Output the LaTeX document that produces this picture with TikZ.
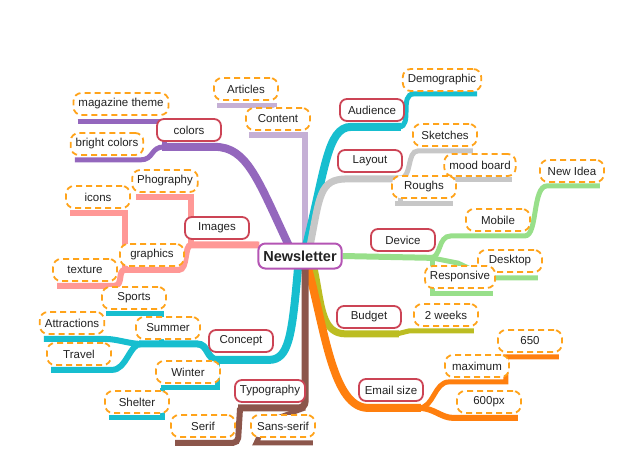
\documentclass[tikz,border=0pt]{standalone}
\usepackage{fontspec}
\setmainfont{Liberation Sans}
\usetikzlibrary{calc,backgrounds}
\definecolor{cpurple}{HTML}{9467BD}
\definecolor{clav}{HTML}{C5B0D5}
\definecolor{cteal}{HTML}{17BECF}
\definecolor{cgray}{HTML}{C7C7C7}
\definecolor{cgreen}{HTML}{98DF8A}
\definecolor{colive}{HTML}{BCBD22}
\definecolor{corg}{HTML}{FF7F0E}
\definecolor{cbrown}{HTML}{8C564B}
\definecolor{cpink}{HTML}{FF9896}
\definecolor{cred}{HTML}{CC4455}
\definecolor{cmag}{HTML}{B455B4}
\definecolor{cdash}{HTML}{FFA31A}
\definecolor{ctext}{HTML}{222222}
\begin{document}
\begin{tikzpicture}[x=1pt,y=-1pt,
  basebox/.style={fill=white, text=ctext, minimum width=64pt, minimum height=22pt,
    inner xsep=5pt, inner ysep=2pt, font=\fontsize{11.5}{13}\selectfont},
  mainbox/.style={basebox, draw=cred, line width=1.8pt, rounded corners=7pt},
  leafbox/.style={basebox, draw=cdash, line width=1.8pt, dash pattern=on 6pt off 4pt, rounded corners=8pt},
  rootbox/.style={basebox, draw=cmag, line width=2pt, rounded corners=7pt, minimum height=25pt,
    font=\bfseries\fontsize{14.5}{16}\selectfont},
  mainline/.style={line width=7pt},
  leafline/.style={line width=5pt}]
\useasboundingbox (0,0) rectangle (620,465);

% nodes
\node[rootbox] (root) at (300,256) {Newsletter};
\node[mainbox] (colors) at (189,130) {colors};
\node[mainbox] (audience) at (372,110) {Audience};
\node[mainbox] (layout) at (370,161) {Layout};
\node[mainbox] (device) at (403,240) {Device};
\node[mainbox] (images) at (217,228) {Images};
\node[mainbox] (budget) at (369,317) {Budget};
\node[mainbox] (email) at (391,390) {Email size};
\node[mainbox] (concept) at (241,341) {Concept};
\node[mainbox] (typo) at (270,391) {Typography};

\node[leafbox] (content) at (278,119) {Content};
\node[leafbox] (articles) at (246,89) {Articles};
\node[leafbox] (demo) at (442,80) {Demographic};
\node[leafbox] (sketches) at (445,135) {Sketches};
\node[leafbox] (mood) at (480,165) {mood board};
\node[leafbox] (roughs) at (424,187) {Roughs};
\node[leafbox] (newidea) at (572,171) {New Idea};
\node[leafbox] (mobile) at (498,220) {Mobile};
\node[leafbox] (desktop) at (510,261) {Desktop};
\node[leafbox] (responsive) at (460,277) {Responsive};
\node[leafbox] (twoweeks) at (446,315) {2 weeks};
\node[leafbox] (n650) at (530,341) {650};
\node[leafbox] (maximum) at (477,366) {maximum};
\node[leafbox] (n600) at (489,402) {600px};
\node[leafbox] (magazine) at (121,104) {magazine theme};
\node[leafbox] (bright) at (107,144) {bright colors};
\node[leafbox] (phog) at (165,181) {Phography};
\node[leafbox] (icons) at (98,197) {icons};
\node[leafbox] (graphics) at (152,255) {graphics};
\node[leafbox] (texture) at (85,270) {texture};
\node[leafbox] (sports) at (134,298) {Sports};
\node[leafbox] (attr) at (72,323) {Attractions};
\node[leafbox] (summer) at (168,328) {Summer};
\node[leafbox] (travel) at (79,354) {Travel};
\node[leafbox] (winter) at (188,372) {Winter};
\node[leafbox] (shelter) at (137,402) {Shelter};
\node[leafbox] (serif) at (203,426) {Serif};
\node[leafbox] (sansserif) at (283,426) {Sans-serif};

\begin{pgfonlayer}{background}
% purple: colors
\draw[mainline,cpurple,line width=8pt] ($(root)+(-11,-10)$) .. controls ($(root)+(-42,-76)$) and ($(colors.south)+(58,5)$) .. ($(colors.south)+(26,5)$) -- ($(colors.south west)+(6,5)$);
\draw[leafline,cpurple] ($(colors.south west)+(8,5)$) .. controls ($(colors.south west)+(-6,5)$) and ($(bright.south east)+(10,4)$) .. ($(bright.south east)+(-4,4)$) -- ($(bright.south west)+(5,4)$);
\draw[leafline,cpurple] ($(magazine.south west)+(5,6)$) -| ($(colors.south west)+(8,5)$);
% lavender: content
\draw[mainline,clav,line width=6pt] ($(root)+(5,-10)$) |- ($(content.south west)+(4,4)$);
\draw[leafline,clav] ($(articles.south west)+(4,5)$) -| ($(content.north)+(-4,0)$);
% teal: audience
\draw[mainline,cteal,line width=8pt] ($(root)+(6,-10)$) .. controls ($(root)+(25,-85)$) and ($(audience.south west)+(-12,5)$) .. ($(audience.south west)+(12,5)$) -- ($(audience.south east)+(-4,5)$);
\draw[leafline,cteal] ($(audience.south east)+(-6,5)$) .. controls ($(audience.south east)+(8,5)$) and ($(demo.south west)+(-3,2)$) .. ($(demo.south west)+(12,2)$) -- ($(demo.south east)+(-5,2)$);
% gray: layout
\draw[mainline,cgray] ($(root)+(10,-10)$) .. controls ($(root)+(20,-60)$) and ($(layout.south west)+(-18,6)$) .. ($(layout.south west)+(10,6)$) -- ($(layout.south east)+(0,6)$);
\draw[leafline,cgray] ($(layout.south east)+(-4,6)$) .. controls ($(layout.south east)+(10,6)$) and ($(sketches.south west)+(-6,4)$) .. ($(sketches.south west)+(6,4)$) -- ($(sketches.south east)+(-5,4)$);
\draw[leafline,cgray] ($(layout.south east)+(-4,7)$) -- ($(mood.south east)+(-5,3)$);
\draw[leafline,cgray] ($(layout.south east)+(-2,6)$) |- ($(roughs.south west)+(4,5)$) -- ($(roughs.south east)+(-4,5)$);
% green: device
\draw[mainline,cgreen,line width=6pt] (root.east) -- ($(device.south)+(31,6)$);
\draw[leafline,cgreen] ($(device.south)+(27,6)$) .. controls ($(device.south)+(39,6)$) and ($(mobile.south west)+(-28,4)$) .. ($(mobile.south west)+(-14,4)$) -- ($(mobile.south east)+(-6,4)$) .. controls ($(mobile.south east)+(7,4)$) and ($(newidea.south west)+(-7,3)$) .. ($(newidea.south west)+(8,3)$) -- ($(newidea.south east)+(-5,3)$);
\draw[leafline,cgreen] ($(device.south)+(29,6)$) -- ($(responsive.north)+(-2,-2)$) -- ($(desktop.south west)+(12,5)$) -- ($(desktop.south east)+(-5,5)$);
\draw[leafline,cgreen] ($(device.south)+(29,6)$) |- ($(responsive.south east)+(-3,5)$);
% olive: budget
\draw[mainline,colive] ($(root)+(14,12)$) .. controls ($(root)+(22,50)$) and ($(budget.south west)+(-15,5)$) .. ($(budget.south west)+(10,5)$) -- ($(budget.south east)+(-3,5)$);
\draw[leafline,colive] ($(budget.south east)+(-5,5)$) -- ($(twoweeks.south west)+(-4,4)$) -- ($(twoweeks.south east)+(-5,4)$);
% orange: email size
\draw[mainline,corg,line width=8pt] ($(root)+(8,12)$) .. controls ($(root)+(25,75)$) and ($(email.south west)+(-25,6)$) .. ($(email.south west)+(10,6)$) -- ($(email.south east)+(-3,6)$);
\draw[leafline,corg] ($(email.south east)+(-5,6)$) .. controls ($(email.south east)+(10,6)$) and ($(maximum.south west)+(-10,4)$) .. ($(maximum.south west)+(5,4)$) -- ($(maximum.south east)+(-4,4)$) |- ($(n650.south east)+(-4,4)$);
\draw[leafline,corg,line width=6pt] ($(email.south east)+(-5,6)$) .. controls ($(email.south east)+(10,6)$) and ($(n600.south west)+(-15,4)$) .. ($(n600.south west)+(-3,4)$) -- ($(n600.south east)+(-4,4)$);
% teal: concept
\draw[mainline,cteal,line width=8pt] ($(root)+(-2,12)$) .. controls ($(root)+(-8,80)$) and ($(concept.south east)+(15,7)$) .. ($(concept.south east)+(-5,7)$) -- ($(concept.south west)+(8,7)$);
\draw[mainline,cteal] ($(concept.south west)+(10,7)$) .. controls ($(concept.south west)+(-2,7)$) and ($(summer.south east)+(8,4)$) .. ($(summer.south east)+(-4,4)$) -- ($(summer.south west)+(4,4)$);
\draw[leafline,cteal,line width=6pt] ($(summer.south west)+(6,4)$) .. controls ($(summer.south west)+(-6,4)$) and ($(attr.south east)+(12,4)$) .. ($(attr.south east)+(0,4)$) -- ($(attr.south west)+(5,4)$);
\draw[leafline,cteal,line width=6pt] ($(summer.south west)+(6,4)$) .. controls ($(summer.south west)+(-6,4)$) and ($(travel.south east)+(15,4)$) .. ($(travel.south east)+(0,4)$) -- ($(travel.south west)+(5,4)$);
\draw[leafline,cteal] ($(sports.south west)+(5,4)$) -| ($(summer.south)+(-7,4)$);
\draw[leafline,cteal] ($(concept.south west)+(9,6)$) |- ($(winter.south west)+(6,4)$);
\draw[leafline,cteal] ($(winter.south west)+(7,4)$) |- ($(shelter.south west)+(5,4)$);
% brown: typography
\draw[mainline,cbrown,rounded corners=6pt] ($(root)+(5,12)$) |- ($(typo.south west)+(4,5)$);
\draw[leafline,cbrown,line width=6pt,rounded corners=5pt] ($(typo.south west)+(6,5)$) -- ($(serif.south east)+(2,5)$) -- ($(serif.south west)+(5,5)$);
\draw[leafline,cbrown] ($(typo.south east)+(-1,5)$) -- ($(sansserif.north west)+(16,8)$) -- ($(sansserif.south west)+(6,5)$) -- ($(sansserif.south east)+(-3,5)$);
% pink: images
\draw[mainline,cpink] ($(root.west)+(2,-11)$) -- ($(images.south west)+(4,5)$);
\draw[leafline,cpink,line width=6pt] ($(images.south west)+(7,5)$) |- ($(phog.south west)+(5,4)$);
\draw[leafline,cpink,line width=6pt] ($(images.south west)+(7,5)$) .. controls ($(images.south west)+(0,5)$) and ($(graphics.south east)+(3,3)$) .. ($(graphics.south east)+(-6,3)$) -- ($(graphics.south west)+(5,3)$);
\draw[leafline,cpink,line width=6pt] ($(graphics.south west)+(6,3)$) .. controls ($(graphics.south west)+(-2,3)$) and ($(texture.south east)+(6,4)$) .. ($(texture.south east)+(-4,4)$) -- ($(texture.south west)+(5,4)$);
\draw[leafline,cpink,line width=6pt] ($(graphics.south west)+(6,3)$) |- ($(icons.south west)+(5,4)$);
\end{pgfonlayer}
\end{tikzpicture}
\end{document}
